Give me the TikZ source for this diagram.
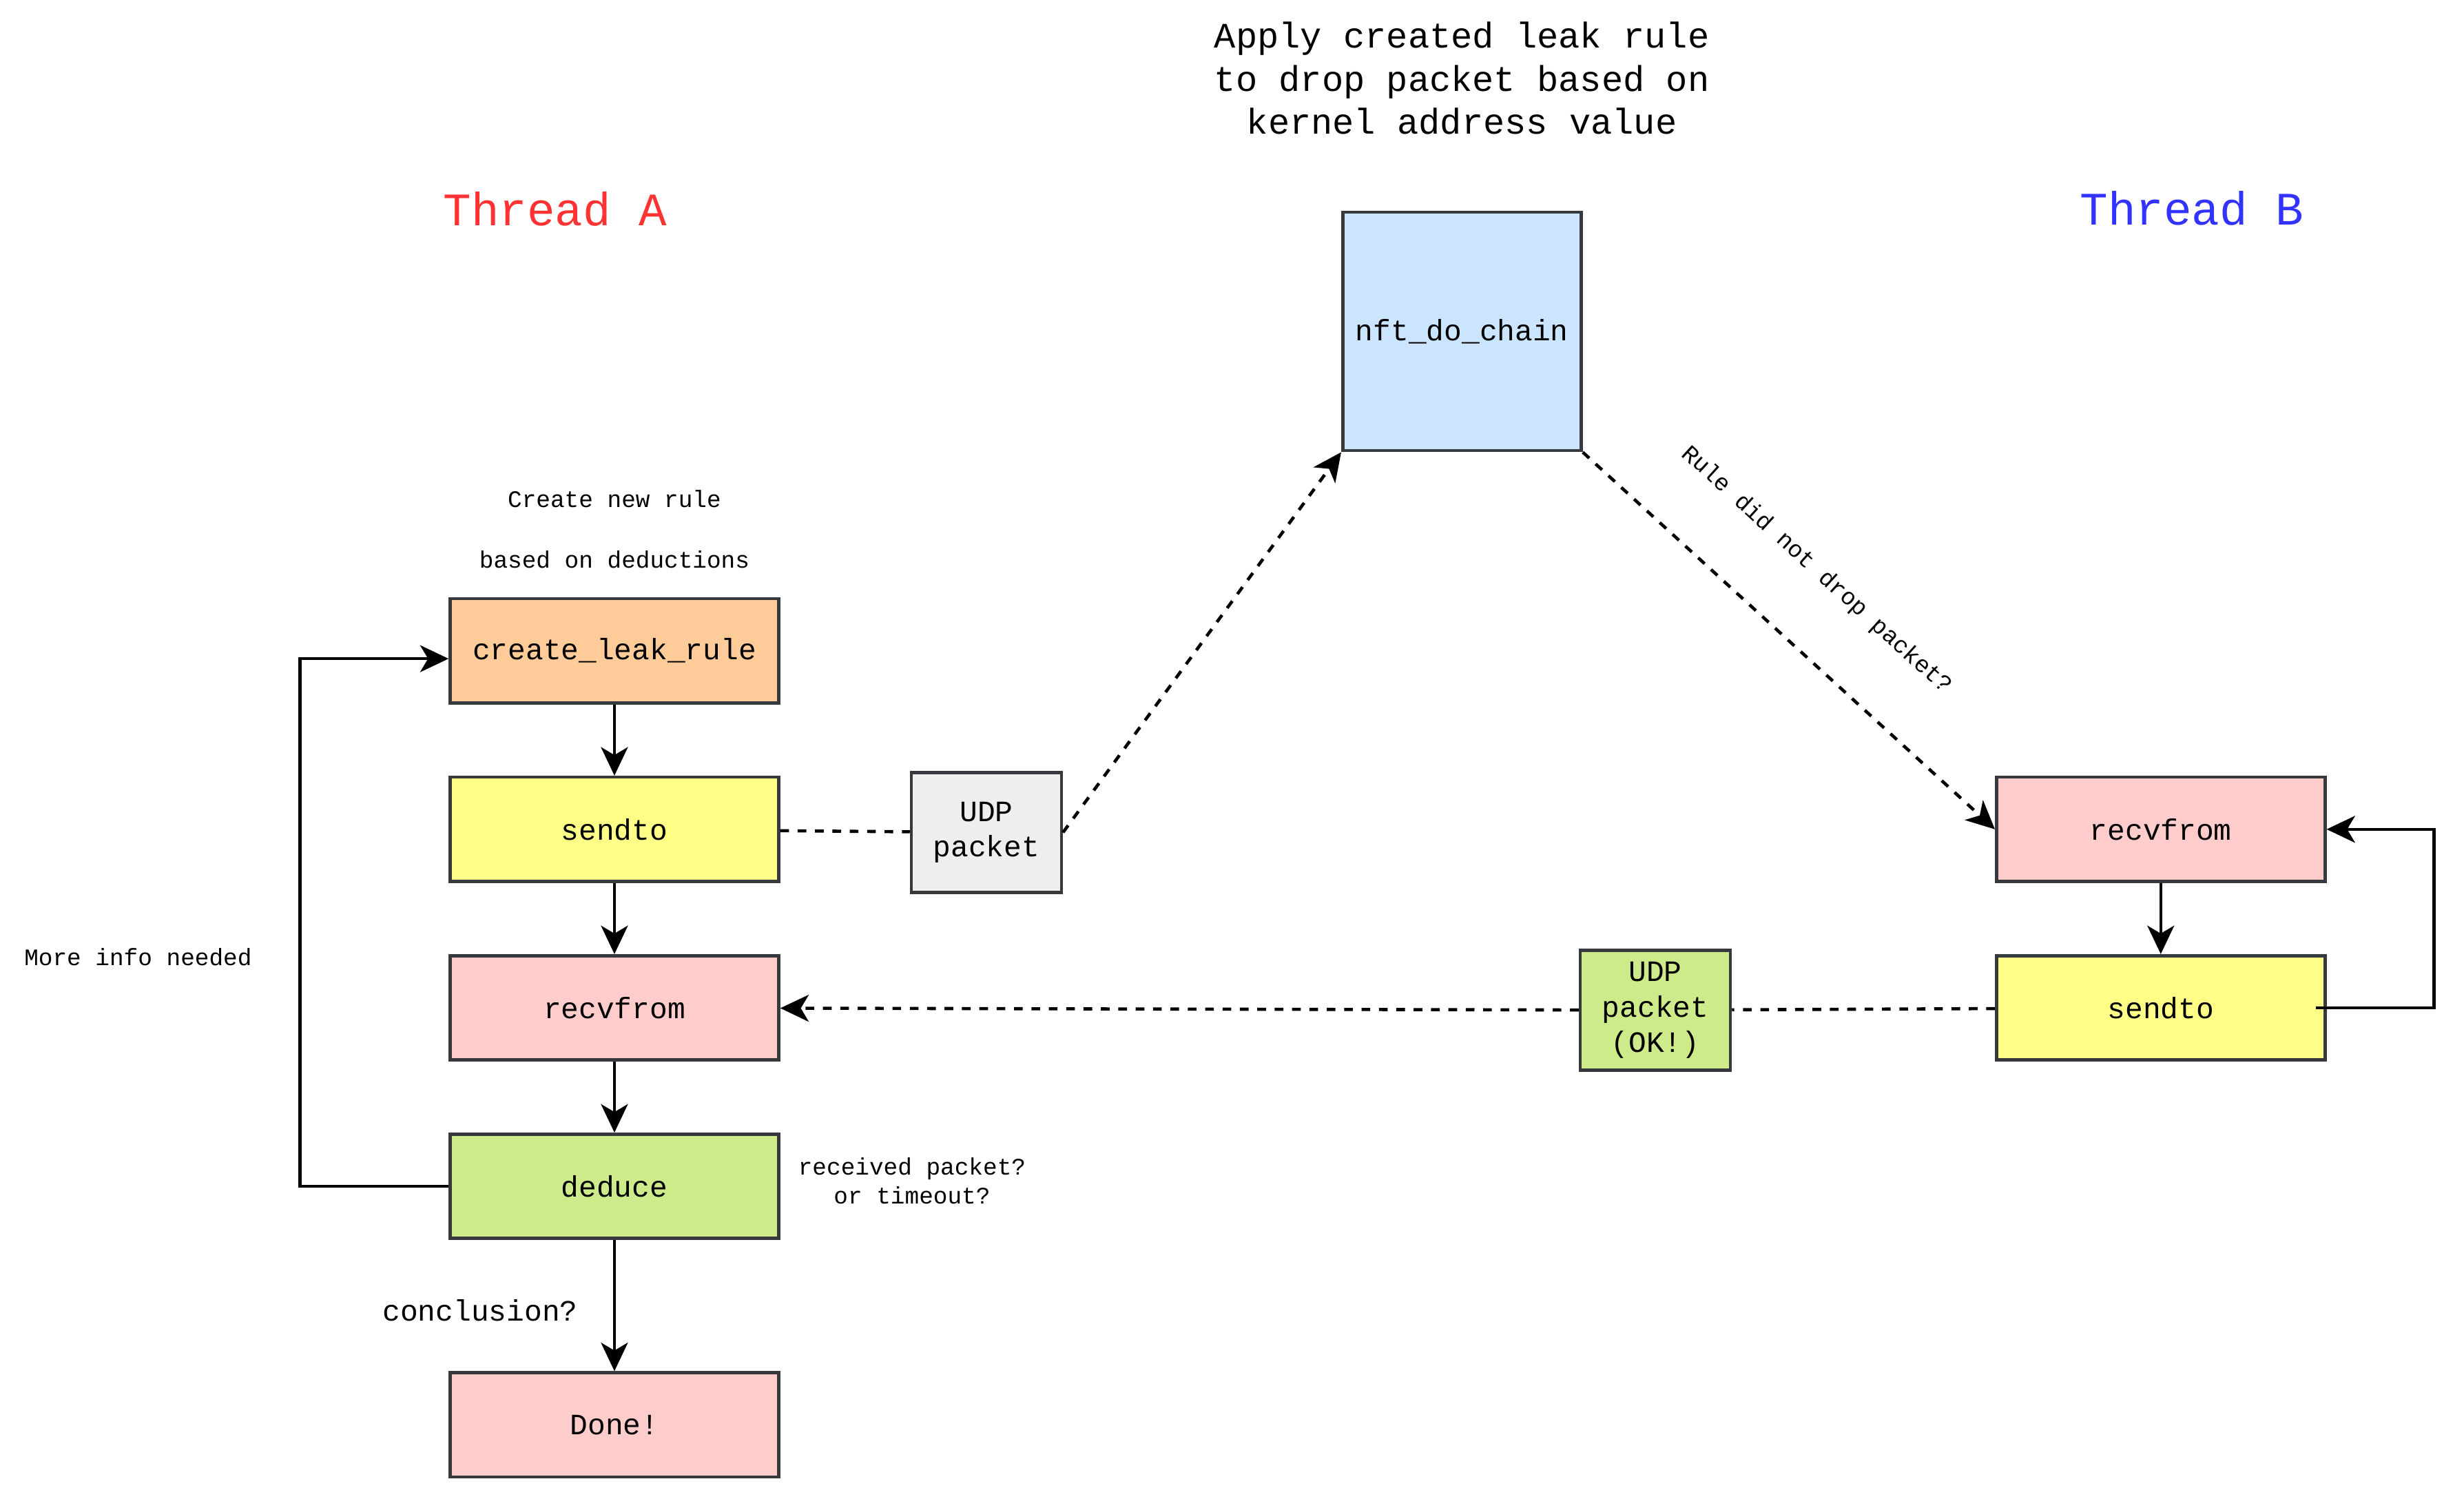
\documentclass[tikz,border=0pt]{standalone}
\usepackage{fontspec}
\setmainfont{Liberation Mono}
\usetikzlibrary{arrows.meta}
\definecolor{boxline}{HTML}{36393D}
\definecolor{nftblue}{HTML}{CCE5FF}
\definecolor{rulefill}{HTML}{FFCC99}
\definecolor{sendfill}{HTML}{FFFF88}
\definecolor{recvfill}{HTML}{FFCCCC}
\definecolor{okfill}{HTML}{CDEB8B}
\definecolor{pktfill}{HTML}{EEEEEE}
\definecolor{threadA}{HTML}{FF3333}
\definecolor{threadB}{HTML}{3333FF}

\begin{document}
\begin{tikzpicture}[x=1pt, y=-1pt,
  every node/.style={font=\fontsize{18.7}{22.4}\selectfont, align=center, inner sep=0pt},
  box/.style={draw=boxline, line width=2pt, minimum width=208pt, minimum height=66pt},
  pkt/.style={box, minimum width=95pt, minimum height=76pt},
  small/.style={font=\fontsize{15}{18.7}\selectfont},
  flow/.style={line width=2pt, -{Stealth[length=18pt, width=17pt, inset=5pt]}},
  wire/.style={line width=2pt, dash pattern=on 5.5pt off 5.5pt}]
\useasboundingbox (0,0) rectangle (1560,942);
\node[box, fill=nftblue, minimum width=151pt, minimum height=151pt] (1) at (925.6, 209.8) {nft\_do\_chain};
\node[box, fill=rulefill] (2) at (389, 412) {create\_leak\_rule};
\node[box, fill=sendfill] (3) at (389, 525) {sendto};
\node[box, fill=recvfill] (4) at (389, 638) {recvfrom};
\node[box, fill=okfill] (5) at (389, 751) {deduce};
\node[box, fill=recvfill] (6) at (389, 902) {Done!};
\node[pkt, fill=pktfill] (7) at (624.5, 527) {UDP\\packet};
\node[box, fill=recvfill] (8) at (1368, 525) {recvfrom};
\node[box, fill=sendfill] (9) at (1368, 638) {sendto};
\node[pkt, fill=okfill] (10) at (1048, 639.5) {UDP\\packet\\(OK!)};
\node[font=\fontsize{22.7}{27.3}\selectfont] (t0) at (925.5, 49.6) {Apply created leak rule\\to drop packet based on\\kernel address value};
\node[font=\fontsize{29.5}{35}\selectfont, text=threadA] (t1) at (351.5, 132.4) {Thread A};
\node[font=\fontsize{29.5}{35}\selectfont, text=threadB] (t2) at (1387.7, 132) {Thread B};
\node[small] (t3) at (389, 335) {Create new rule\\[19.8pt]based on deductions};
\node[small] (t4) at (87.4, 605.8) {More info needed};
\node[small] (t5) at (577.4, 747.6) {received packet?\\or timeout?};
\node (t6) at (304, 829.5) {conclusion?};
\node[small, rotate=-42.2] (t7) at (1150, 361) {Rule did not drop packet?};
\draw[flow] (2) -- (3);
\draw[flow] (3) -- (4);
\draw[flow] (4) -- (5);
\draw[flow] (5) -- (6);
\draw[flow] (8) -- (9);
\draw[flow] (5.west) -- ++(-94,0) |- ([yshift=-5pt]2.west);
\draw[flow] ([xshift=-7pt]9.east) -- ++(75,0) |- (8.east);
\draw[wire] (3) -- (7);
\draw[wire, flow] (7.east) -- (1.south west);
\draw[wire, flow] (1.south east) -- (8.west);
\draw[wire] (9) -- (10);
\draw[wire, flow] (10) -- (4);
\end{tikzpicture}
\end{document}
